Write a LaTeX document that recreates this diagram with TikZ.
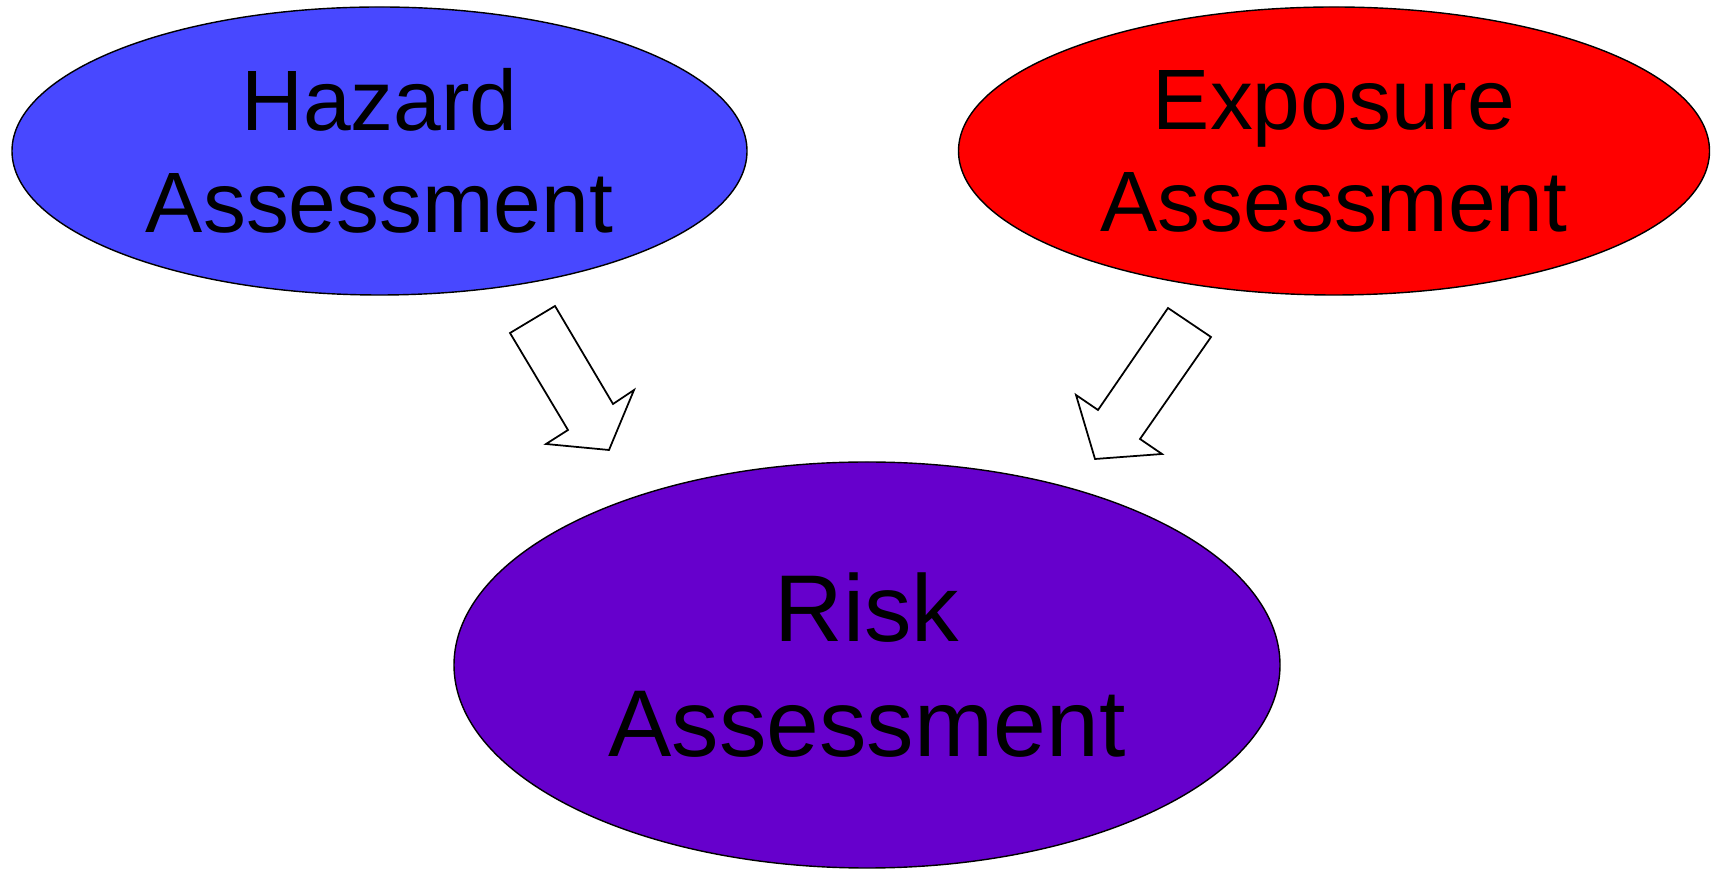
\documentclass[tikz,border=0pt]{standalone}
\usepackage{fontspec}
\setmainfont{Liberation Sans}
\usepackage{tikz}
\usetikzlibrary{shapes.geometric}
\definecolor{hazardblue}{RGB}{72,72,255}
\definecolor{exposred}{RGB}{255,0,0}
\definecolor{riskviolet}{RGB}{102,0,204}

\begin{document}
\begin{tikzpicture}[assess/.style={ellipse,draw=black,line width=0.4pt,inner sep=0pt,align=center},
    blockarrow/.style={draw=black,fill=white,line width=0.5pt,line join=miter}]
\useasboundingbox (0,0) rectangle (17.12,8.69);
\node[assess,fill=hazardblue,minimum width=7.35cm,minimum height=2.88cm,
      font=\fontsize{24.4}{29}\selectfont] (hazard) at (3.795,7.18) {Hazard\\Assessment};
\node[assess,fill=exposred,minimum width=7.51cm,minimum height=2.88cm,
      font=\fontsize{24.4}{29}\selectfont] (exposure) at (13.34,7.18) {Exposure\\Assessment};
\node[assess,fill=riskviolet,minimum width=8.26cm,minimum height=4.06cm,
      font=\fontsize{27}{32.6}\selectfont] (risk) at (8.67,2.04) {Risk\\Assessment};
% block arrows into the risk ellipse
\draw[blockarrow] (5.10,5.36) -- (5.55,5.63) -- (6.13,4.65) -- (6.34,4.79)
    -- (6.09,4.19) -- (5.46,4.25) -- (5.68,4.39) -- cycle;
\draw[blockarrow] (11.68,5.61) -- (12.11,5.32) -- (11.40,4.30) -- (11.62,4.15)
    -- (10.95,4.10) -- (10.76,4.74) -- (10.98,4.59) -- cycle;
\end{tikzpicture}
\end{document}
